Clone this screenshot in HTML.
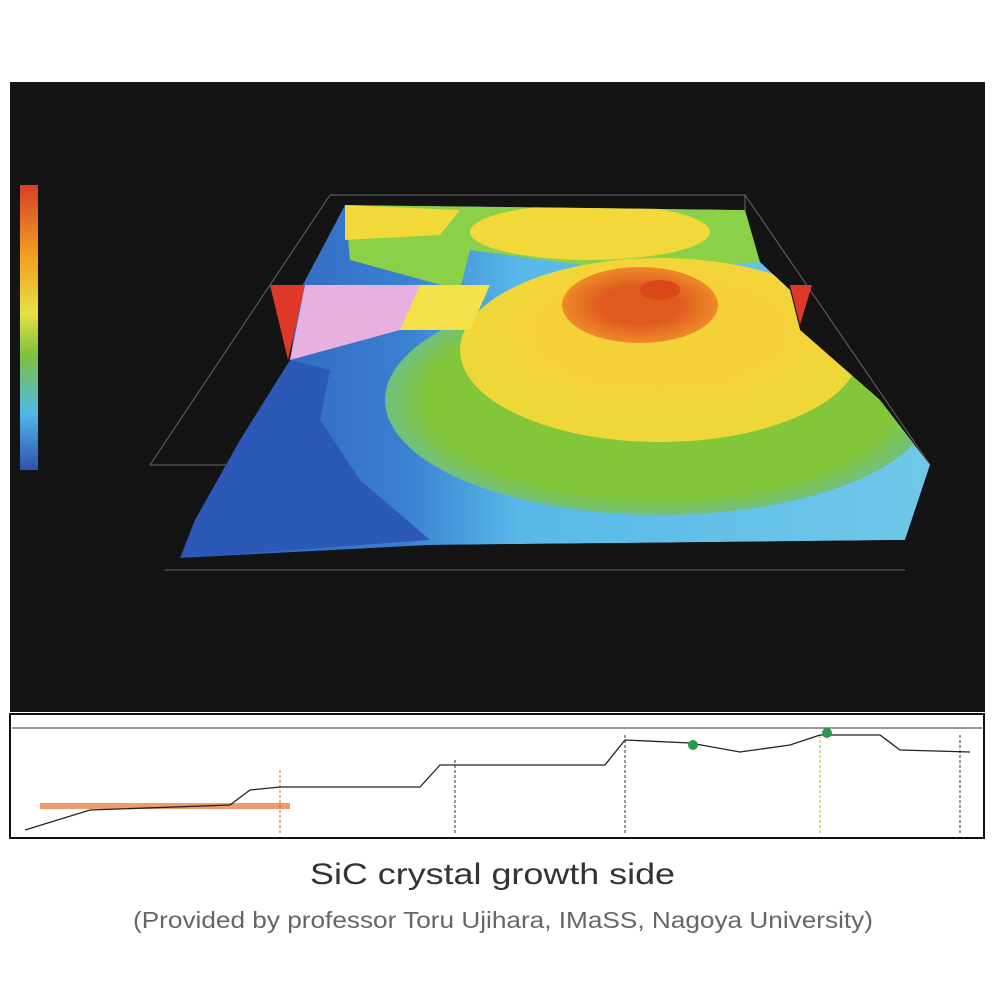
<!DOCTYPE html>
<html><head><meta charset="utf-8"><style>
body{margin:0;background:#fff;width:1000px;height:1000px;overflow:hidden;font-family:"Liberation Sans",sans-serif}
</style></head><body>
<svg width="1000" height="1000" viewBox="0 0 1000 1000">
<defs>
<linearGradient id="cb" x1="0" y1="0" x2="0" y2="1">
<stop offset="0" stop-color="#d8402a"/><stop offset="0.25" stop-color="#f0a020"/><stop offset="0.45" stop-color="#e8e040"/><stop offset="0.6" stop-color="#7cc040"/><stop offset="0.8" stop-color="#50b8e8"/><stop offset="1" stop-color="#3050b0"/></linearGradient>
<linearGradient id="base" x1="0" y1="0" x2="1" y2="0">
<stop offset="0" stop-color="#2c58b8"/><stop offset="0.3" stop-color="#3a80d0"/><stop offset="0.45" stop-color="#58b8e8"/><stop offset="1" stop-color="#70c8e8"/></linearGradient>
<radialGradient id="grn" cx="0.5" cy="0.5" r="0.5"><stop offset="0.85" stop-color="#84c63a"/><stop offset="1" stop-color="#70c080"/></radialGradient>
<radialGradient id="yel" cx="0.5" cy="0.4" r="0.5"><stop offset="0.6" stop-color="#f6d23a"/><stop offset="1" stop-color="#eed838"/></radialGradient>
<radialGradient id="org" cx="0.5" cy="0.5" r="0.5"><stop offset="0.5" stop-color="#e05a20"/><stop offset="1" stop-color="#ee8a28"/></radialGradient>
<clipPath id="surf"><polygon points="345,205 745,210 760,262 790,290 800,330 880,400 930,465 905,540 430,545 180,558 195,520 240,440 290,360 300,290"/></clipPath>
</defs>
<rect x="10" y="82" width="975" height="630" fill="#141414"/>
<rect x="20" y="185" width="18" height="285" fill="url(#cb)"/>
<g stroke="#666" stroke-width="1" fill="none">
<polyline points="330,195 745,195 745,290"/><line x1="330" y1="195" x2="150" y2="465"/><line x1="745" y1="195" x2="930" y2="465"/>
<line x1="150" y1="465" x2="930" y2="465"/><line x1="165" y1="570" x2="905" y2="570"/>
</g>
<g clip-path="url(#surf)">
<polygon fill="url(#base)" points="345,205 745,210 760,262 790,290 800,330 880,400 930,465 905,540 430,545 180,558 195,520 240,440 290,360 300,290"/>
<polygon fill="#2c58b8" points="180,558 195,520 240,440 290,360 330,370 320,420 360,480 430,540"/>
<polygon fill="#8ad048" points="345,205 745,210 760,262 620,270 470,250 460,290 350,260"/>
<ellipse cx="590" cy="232" rx="120" ry="28" fill="#f2d838"/>
<polygon fill="#f2d838" points="345,205 460,210 440,235 345,240" />
<ellipse cx="660" cy="400" rx="275" ry="115" fill="url(#grn)"/>
<ellipse cx="660" cy="350" rx="200" ry="92" fill="url(#yel)"/>
</g>
<polygon fill="#f4e048" points="410,285 490,285 470,330 400,330" />
<polygon fill="#e8b0e0" points="305,285 420,285 400,330 290,360"/>
<ellipse cx="640" cy="305" rx="78" ry="38" fill="url(#org)"/>
<ellipse cx="660" cy="290" rx="20" ry="10" fill="#d84818" />
<polygon fill="#e03828" points="270,285 305,285 288,360"/>
<polygon fill="#e03828" points="790,285 812,285 800,325"/>
<rect x="10" y="714" width="974" height="124" fill="#fff" stroke="#111" stroke-width="2"/>
<line x1="12" y1="728" x2="982" y2="728" stroke="#333"/>
<rect x="40" y="803" width="250" height="6" fill="#e87030" opacity="0.7"/>
<g stroke="#333" stroke-dasharray="3,2">
<line x1="280" y1="770" x2="280" y2="835" stroke="#e06020"/><line x1="455" y1="760" x2="455" y2="835"/><line x1="625" y1="735" x2="625" y2="835"/><line x1="820" y1="735" x2="820" y2="835" stroke="#c0b030"/><line x1="960" y1="735" x2="960" y2="835"/></g>
<polyline id="prof" fill="none" stroke="#222" stroke-width="1.3"/>
<circle cx="693" cy="745" r="5" fill="#2a9a4a"/>
<circle cx="827" cy="733" r="5" fill="#2a9a4a"/>
<text x="310" y="884" textLength="365" lengthAdjust="spacingAndGlyphs" font-size="30" fill="#333">SiC crystal growth side</text>
<text x="133" y="928" textLength="740" lengthAdjust="spacingAndGlyphs" font-size="23" fill="#666">(Provided by professor Toru Ujihara, IMaSS, Nagoya University)</text>
</svg>
<script>
const profX=[25,90,230,250,280,420,440,455,605,625,690,740,790,820,880,900,970];
const profY=[830,810,805,790,787,787,765,765,765,740,743,752,745,735,735,750,752];
const pts=profX.map((x,i)=>x+','+profY[i]).join(' ');
document.getElementById('prof').setAttribute('points',pts);
</script>
</body></html>
